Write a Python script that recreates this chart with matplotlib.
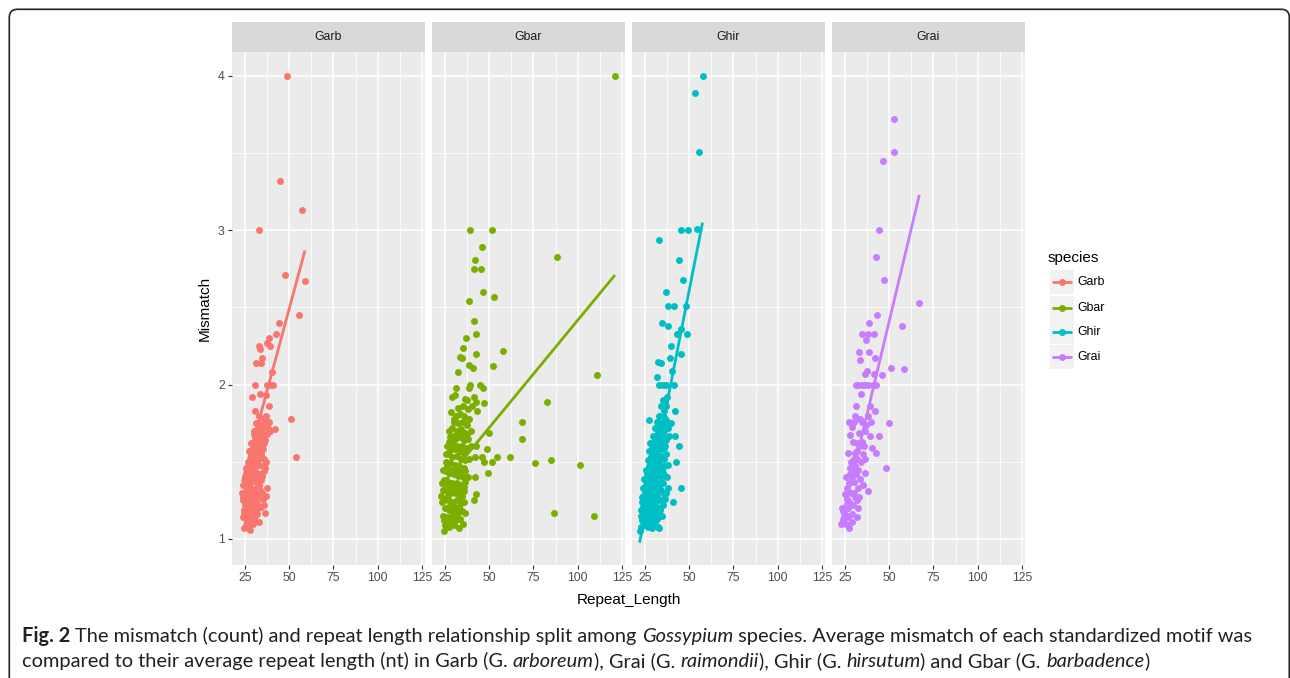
import matplotlib
matplotlib.use("Agg")
import matplotlib.pyplot as plt
from matplotlib.patches import Rectangle, FancyBboxPatch

W, H = 1290, 678

species = ["Garb", "Gbar", "Ghir", "Grai"]
colors = ["#F8766D", "#7CAE00", "#00BFC4", "#C77CFF"]

# (Repeat_Length, Mismatch)
garb_points = [
    (48.5, 4.0), (45.0, 3.32), (57.4, 3.13), (33.1, 3.0), (47.6, 2.71), (58.7, 2.67),
    (55.3, 2.45), (44.2, 2.40), (42.7, 2.33), (38.7, 2.30), (37.3, 2.27), (39.3, 2.25),
    (32.7, 2.25), (33.5, 2.23), (34.4, 2.17), (31.0, 2.14), (34.2, 2.14), (40.4, 2.08),
    (30.9, 2.0), (37.6, 2.0), (39.0, 2.0), (40.6, 2.0), (29.1, 1.92), (33.3, 1.94),
    (37.1, 1.93), (38.7, 1.86), (30.6, 1.83), (51.2, 1.78), (42.1, 1.71), (53.8, 1.53),
    (33.0, 1.80), (35.5, 1.78), (37.0, 1.77), (31.0, 1.75), (32.5, 1.75), (34.0, 1.74),
    (36.2, 1.73), (38.0, 1.72), (29.8, 1.70), (31.5, 1.70), (33.5, 1.69), (35.0, 1.68),
    (37.5, 1.68), (39.0, 1.70), (30.5, 1.66), (32.0, 1.65), (34.5, 1.65), (36.5, 1.64),
    (28.5, 1.62), (30.0, 1.61), (31.5, 1.60), (33.0, 1.58), (35.0, 1.58), (27.5, 1.57),
    (29.5, 1.56), (31.0, 1.55), (32.5, 1.53), (34.2, 1.54), (36.0, 1.52), (26.5, 1.50),
    (28.0, 1.50), (29.5, 1.49), (31.0, 1.50), (33.0, 1.48), (35.0, 1.47), (37.0, 1.50),
    (25.5, 1.46), (27.0, 1.45), (28.5, 1.44), (30.0, 1.45), (31.5, 1.43), (33.5, 1.42),
    (35.5, 1.44), (25.0, 1.40), (26.5, 1.40), (28.0, 1.39), (29.5, 1.38), (31.0, 1.40),
    (32.5, 1.37), (34.0, 1.38), (24.0, 1.35), (25.5, 1.34), (27.0, 1.33), (28.5, 1.33),
    (30.0, 1.32), (31.5, 1.33), (33.5, 1.32), (37.6, 1.33), (23.5, 1.30), (25.0, 1.29),
    (26.5, 1.28), (28.0, 1.29), (29.5, 1.27), (31.0, 1.28), (33.0, 1.27), (35.0, 1.26),
    (37.0, 1.28), (24.0, 1.25), (25.5, 1.24), (27.0, 1.23), (28.5, 1.24), (30.0, 1.22),
    (32.0, 1.23), (34.0, 1.21), (36.0, 1.22), (24.5, 1.19), (26.0, 1.18), (27.5, 1.19),
    (29.0, 1.17), (31.0, 1.18), (32.5, 1.20), (36.4, 1.17), (24.0, 1.14), (25.5, 1.13),
    (27.0, 1.14), (28.5, 1.12), (30.0, 1.13), (33.1, 1.11), (24.6, 1.07), (25.8, 1.09),
    (27.2, 1.10),
    (24.8, 1.22), (26.2, 1.31), (27.8, 1.36), (29.2, 1.42), (30.7, 1.47), (32.2, 1.51),
    (33.8, 1.56), (35.8, 1.62), (26.8, 1.16), (28.2, 1.21), (29.8, 1.25), (31.5, 1.30),
    (33.0, 1.35), (34.8, 1.41), (36.5, 1.46), (30.5, 1.15), (32.0, 1.16), (34.5, 1.30),
    (27.8, 1.48), (29.0, 1.53), (30.8, 1.58), (32.8, 1.63), (34.0, 1.60), (26.0, 1.43),
    (25.0, 1.37), (23.8, 1.27), (24.3, 1.17), (26.2, 1.11), (28.0, 1.06), (29.5, 1.10),
    (31.8, 1.36), (30.2, 1.68), (32.2, 1.72), (34.8, 1.71), (36.8, 1.80), (38.5, 1.76),
]
gbar_points = [
    (121.0, 4.0), (39.3, 3.0), (51.6, 3.0), (45.9, 2.89), (42.1, 2.81), (41.2, 2.75),
    (45.5, 2.75), (88.4, 2.83), (46.5, 2.60), (52.5, 2.57), (38.4, 2.54), (41.2, 2.41),
    (42.3, 2.33), (36.7, 2.30), (35.2, 2.24), (42.3, 2.20), (57.9, 2.22), (33.3, 2.18),
    (34.6, 2.17), (38.4, 2.13), (41.0, 2.11), (52.1, 2.12), (32.2, 2.08), (39.3, 2.0),
    (38.6, 1.98), (44.8, 2.0), (46.3, 1.98), (31.0, 1.98), (28.9, 1.92), (30.6, 1.93),
    (36.5, 1.91), (37.2, 1.90), (41.5, 1.92), (42.3, 1.89), (47.0, 1.88), (40.1, 1.86),
    (42.9, 1.83), (111.1, 2.06), (82.6, 1.89), (68.7, 1.76), (68.7, 1.65), (50.0, 1.69),
    (48.6, 1.58), (42.3, 1.60), (42.0, 1.53), (46.1, 1.53), (47.2, 1.50), (51.4, 1.50),
    (54.2, 1.53), (61.7, 1.53), (49.5, 1.43), (42.0, 1.40), (42.7, 1.29), (41.6, 1.25),
    (75.7, 1.49), (84.7, 1.51), (101.1, 1.48), (86.7, 1.17), (109.4, 1.15), (26.5, 1.56),
    (24.4, 1.05), (33.1, 1.07), (36.3, 1.17),
    (28.5, 1.82), (31.0, 1.80), (33.5, 1.81), (36.0, 1.80), (38.5, 1.78), (30.0, 1.76),
    (32.5, 1.75), (35.0, 1.76), (37.5, 1.74), (29.0, 1.72), (31.5, 1.70), (34.0, 1.71),
    (36.5, 1.69), (39.5, 1.70), (28.0, 1.66), (30.5, 1.65), (33.0, 1.66), (35.5, 1.64),
    (38.0, 1.65), (29.5, 1.61), (32.0, 1.60), (34.5, 1.60), (37.0, 1.59), (27.0, 1.55),
    (29.0, 1.53), (31.5, 1.54), (34.0, 1.52), (36.5, 1.51), (28.0, 1.49), (30.5, 1.48),
    (33.0, 1.47), (35.5, 1.46), (25.5, 1.44), (27.5, 1.43), (30.0, 1.42), (32.5, 1.41),
    (35.0, 1.40), (24.5, 1.38), (26.5, 1.37), (29.0, 1.36), (31.5, 1.36), (34.0, 1.35),
    (36.5, 1.37), (24.0, 1.32), (26.0, 1.31), (28.0, 1.30), (30.5, 1.30), (33.0, 1.29),
    (35.5, 1.31), (24.5, 1.26), (26.5, 1.25), (29.0, 1.24), (31.5, 1.25), (34.0, 1.23),
    (25.0, 1.20), (27.0, 1.19), (29.5, 1.18), (32.0, 1.19), (34.5, 1.18), (24.0, 1.15),
    (26.0, 1.14), (28.5, 1.13), (31.0, 1.12), (33.5, 1.13), (25.0, 1.09), (27.5, 1.08),
    (30.0, 1.09), (35.0, 1.10),
    (25.5, 1.50), (26.0, 1.60), (27.0, 1.70), (29.8, 1.78), (32.3, 1.85), (35.0, 1.86),
    (37.8, 1.84), (26.8, 1.10), (29.0, 1.15), (31.8, 1.16), (33.0, 1.21), (35.8, 1.24),
    (25.8, 1.33), (27.5, 1.34), (30.0, 1.33), (32.3, 1.33), (34.8, 1.28), (23.5, 1.24),
    (23.2, 1.36), (23.8, 1.45), (26.2, 1.47), (28.8, 1.45), (31.0, 1.44), (33.8, 1.44),
    (36.5, 1.44), (25.8, 1.55), (28.3, 1.58), (30.8, 1.58), (33.3, 1.57), (35.8, 1.56),
    (27.2, 1.63), (29.8, 1.67), (32.3, 1.69), (34.8, 1.67), (37.5, 1.68), (24.5, 1.12),
    (22.8, 1.28), (26.5, 1.28), (28.0, 1.22), (30.5, 1.21), (32.8, 1.26), (36.0, 1.34),
    (38.0, 1.40), (38.5, 1.52), (39.8, 1.60),
]
ghir_points = [
    (57.6, 4.0), (53.2, 3.89), (55.3, 3.51), (45.5, 3.0), (49.3, 3.0), (54.2, 3.01),
    (32.8, 2.94), (44.2, 2.81), (46.4, 2.68), (36.6, 2.60), (38.1, 2.51), (41.3, 2.51),
    (48.4, 2.51), (34.5, 2.40), (37.9, 2.38), (43.0, 2.33), (45.1, 2.36), (48.5, 2.33),
    (39.6, 2.25), (45.5, 2.20), (32.1, 2.15), (34.2, 2.14), (38.9, 2.17), (40.2, 2.09),
    (31.9, 2.05), (33.0, 2.0), (35.1, 2.0), (37.0, 2.0), (41.3, 2.0), (36.1, 1.89),
    (37.0, 1.86), (42.1, 1.83), (27.0, 1.77), (39.5, 1.75), (41.7, 1.67), (44.2, 1.60),
    (42.7, 1.50), (45.1, 1.33), (40.6, 1.24), (37.9, 1.33), (22.4, 1.05), (32.1, 1.08),
    (34.0, 1.86), (35.5, 1.83), (33.0, 1.80), (36.0, 1.79), (31.5, 1.76), (34.0, 1.75),
    (37.0, 1.74), (30.5, 1.72), (33.0, 1.71), (35.5, 1.70), (38.0, 1.72), (29.5, 1.67),
    (32.0, 1.66), (34.5, 1.65), (37.0, 1.64), (28.0, 1.62), (30.5, 1.61), (33.0, 1.60),
    (35.5, 1.59), (27.0, 1.57), (29.5, 1.56), (32.0, 1.55), (34.5, 1.54), (37.0, 1.55),
    (26.5, 1.51), (28.5, 1.50), (31.0, 1.49), (33.5, 1.48), (36.0, 1.47), (25.5, 1.45),
    (27.5, 1.44), (30.0, 1.43), (32.5, 1.42), (35.0, 1.43), (24.5, 1.39), (26.5, 1.38),
    (29.0, 1.37), (31.5, 1.36), (34.0, 1.37), (24.0, 1.33), (26.0, 1.32), (28.0, 1.31),
    (30.5, 1.30), (33.0, 1.31), (35.5, 1.29), (23.5, 1.27), (25.5, 1.26), (27.5, 1.25),
    (30.0, 1.24), (32.5, 1.25), (35.0, 1.22), (24.0, 1.21), (26.0, 1.20), (28.5, 1.19),
    (31.0, 1.18), (33.5, 1.19), (23.0, 1.15), (25.0, 1.14), (27.0, 1.13), (29.5, 1.12),
    (32.0, 1.13), (24.0, 1.09), (26.5, 1.08), (29.0, 1.07), (23.5, 1.12),
    (24.8, 1.17), (27.3, 1.16), (29.8, 1.16), (32.5, 1.16), (34.5, 1.15), (23.2, 1.24),
    (26.8, 1.22), (29.3, 1.21), (31.8, 1.21), (34.2, 1.25), (36.5, 1.26), (24.8, 1.30),
    (27.3, 1.28), (29.3, 1.28), (31.8, 1.28), (34.3, 1.32), (37.0, 1.30), (25.5, 1.35),
    (27.8, 1.35), (30.3, 1.34), (32.8, 1.35), (35.3, 1.36), (37.5, 1.40), (26.3, 1.42),
    (28.8, 1.41), (31.3, 1.40), (33.8, 1.41), (36.3, 1.41), (27.3, 1.47), (29.8, 1.47),
    (32.3, 1.46), (34.8, 1.45), (38.0, 1.48), (28.3, 1.53), (30.8, 1.53), (33.3, 1.52),
    (35.8, 1.52), (29.2, 1.59), (31.8, 1.58), (34.2, 1.58), (36.5, 1.60), (30.8, 1.64),
    (33.5, 1.63), (35.8, 1.66), (38.5, 1.67), (32.5, 1.69), (34.8, 1.72), (36.8, 1.77),
    (35.0, 1.90), (37.5, 1.92), (23.0, 1.08), (25.5, 1.11), (28.0, 1.10), (30.5, 1.10),
    (33.0, 1.07), (22.5, 1.19),
]
grai_points = [
    (52.5, 3.72), (52.9, 3.51), (46.6, 3.45), (44.4, 3.0), (42.7, 2.83), (46.9, 2.68),
    (66.8, 2.53), (43.2, 2.45), (38.6, 2.40), (57.0, 2.38), (34.8, 2.33), (38.2, 2.33),
    (41.6, 2.33), (37.0, 2.29), (32.9, 2.21), (38.6, 2.21), (33.3, 2.16), (41.9, 2.17),
    (50.8, 2.11), (58.3, 2.10), (37.2, 2.09), (36.3, 2.07), (41.6, 2.07), (45.7, 2.06),
    (31.0, 2.0), (32.5, 2.0), (34.4, 2.0), (36.3, 2.0), (38.2, 2.0), (41.0, 2.0),
    (42.5, 2.0), (34.0, 1.94), (31.0, 1.86), (39.0, 1.86), (42.1, 1.83), (37.8, 1.80),
    (27.3, 1.76), (30.3, 1.755), (34.4, 1.76), (37.0, 1.74), (39.9, 1.755), (50.0, 1.75),
    (28.8, 1.725), (27.8, 1.675), (33.1, 1.69), (39.1, 1.67), (44.4, 1.67), (40.1, 1.59),
    (42.3, 1.56), (26.9, 1.56), (30.6, 1.56), (48.0, 1.46), (28.4, 1.50), (34.0, 1.50),
    (35.3, 1.55), (36.1, 1.43), (25.4, 1.40), (28.8, 1.40), (33.5, 1.39), (37.8, 1.31),
    (26.0, 1.33), (32.5, 1.33), (25.0, 1.29), (30.6, 1.27), (31.6, 1.25), (23.1, 1.20),
    (26.9, 1.20), (32.2, 1.20), (31.6, 1.14), (25.0, 1.16), (24.1, 1.12), (22.7, 1.10),
    (25.4, 1.10), (27.3, 1.07), (28.8, 1.11),
    (29.5, 1.63), (31.5, 1.62), (33.0, 1.60), (28.0, 1.46), (30.5, 1.47), (32.5, 1.45),
    (27.0, 1.36), (30.0, 1.37), (28.5, 1.30), (27.5, 1.24), (29.5, 1.22), (26.0, 1.26),
    (35.0, 1.35), (31.0, 1.42), (32.0, 1.52), (34.5, 1.63), (36.5, 1.70), (33.5, 1.78),
    (30.5, 1.80),
    (24.0, 1.18), (26.5, 1.14), (29.0, 1.16), (30.0, 1.30), (33.0, 1.27), (27.8, 1.42),
    (29.8, 1.52), (31.5, 1.57), (35.5, 1.60), (36.5, 1.52),
]
# lm fit lines, end points
garb_fit = [(23.5, 1.37), (58.9, 2.87)]
gbar_fit = [(24.0, 1.36), (121.0, 2.71)]
ghir_fit = [(21.9, 0.976), (57.5, 3.05)]
grai_fit = [(22.7, 1.10), (67.0, 3.23)]

all_points = [garb_points, gbar_points, ghir_points, grai_points]
all_fits = [garb_fit, gbar_fit, ghir_fit, grai_fit]

x_ticks = [25, 50, 75, 100, 125]
y_ticks = [1, 2, 3, 4]

caption_line1 = [("Fig. 2 ", "bold", "normal"),
                 ("The mismatch (count) and repeat length relationship split among ", "normal", "normal"),
                 ("Gossypium", "normal", "italic"),
                 (" species. Average mismatch of each standardized motif was", "normal", "normal")]
caption_line2 = [("compared to their average repeat length (nt) in Garb (G. ", "normal", "normal"),
                 ("arboreum", "normal", "italic"),
                 ("), Grai (G. ", "normal", "normal"),
                 ("raimondii", "normal", "italic"),
                 ("), Ghir (G. ", "normal", "normal"),
                 ("hirsutum", "normal", "italic"),
                 (") and Gbar (G. ", "normal", "normal"),
                 ("barbadence", "normal", "italic"),
                 (")", "normal", "normal")]

plt.rcParams['font.family'] = ['Liberation Sans', 'DejaVu Sans']

fig = plt.figure(figsize=(W / 100, H / 100), dpi=100)
fig.patch.set_facecolor("white")


def rect(l, t, r, b):
    return [l / W, 1 - b / H, (r - l) / W, (b - t) / H]


panel_left = [232, 432, 632, 832]
ptop, pbot = 52, 565
strip_h = 30

for i, sp in enumerate(species):
    ax = fig.add_axes(rect(panel_left[i], ptop, panel_left[i] + 193, pbot))
    ax.set_facecolor("#EBEBEB")
    ax.set_xlim(17.65, 126.7)
    ax.set_ylim(0.8315, 4.1555)
    ax.set_xticks(x_ticks)
    ax.set_xticks([37.5, 62.5, 87.5, 112.5], minor=True)
    ax.set_yticks(y_ticks)
    ax.set_yticks([1.5, 2.5, 3.5], minor=True)
    ax.grid(which="major", color="white", lw=1.1)
    ax.grid(which="minor", color="white", lw=0.55)
    ax.set_axisbelow(True)
    for s in ax.spines.values():
        s.set_visible(False)
    ax.tick_params(which="minor", length=0)
    ax.tick_params(which="major", length=3.2, width=0.8, color="#333333",
                   labelsize=8.8, labelcolor="#4D4D4D", pad=2)
    if i > 0:
        ax.tick_params(axis="y", length=0, labelleft=False)

    xs = [p[0] for p in all_points[i]]
    ys = [p[1] for p in all_points[i]]
    ax.scatter(xs, ys, s=25, color=colors[i], linewidths=0, zorder=3)
    fx = [p[0] for p in all_fits[i]]
    fy = [p[1] for p in all_fits[i]]
    ax.plot(fx, fy, color=colors[i], lw=2.0, zorder=4, solid_capstyle="butt")

    sh = strip_h / (pbot - ptop)
    ax.add_patch(Rectangle((0, 1), 1, sh, transform=ax.transAxes, facecolor="#D9D9D9",
                           edgecolor="none", clip_on=False))
    ax.text(0.5, 1 + sh / 2, sp, transform=ax.transAxes, ha="center", va="center",
            fontsize=8.8, color="#1A1A1A")

# overlay in pixel coordinates for labels, legend, caption, frame
ov = fig.add_axes([0, 0, 1, 1])
ov.set_xlim(0, W)
ov.set_ylim(H, 0)
ov.axis("off")

ov.text(205, 308.5, "Mismatch", rotation=90, ha="center", va="center", fontsize=11, color="black")
ov.text(628.5, 600, "Repeat_Length", ha="center", va="center", fontsize=11, color="black")

# legend
ov.text(1048, 258, "species", ha="left", va="center", fontsize=11, color="black")
key_y = [282.3, 307.7, 332.3, 357.3]
for i, sp in enumerate(species):
    yc = key_y[i]
    ov.add_patch(Rectangle((1050, yc - 12), 23.5, 24, facecolor="#F2F2F2", edgecolor="none"))
    ov.plot([1052, 1071.5], [yc, yc], color=colors[i], lw=2.0, solid_capstyle="butt")
    ov.scatter([1061.7], [yc], s=25, color=colors[i], linewidths=0, zorder=3)
    ov.text(1077, yc, sp, ha="left", va="center", fontsize=8.8, color="black")

# frame of the figure box
ov.add_patch(FancyBboxPatch((9.3, 9.3), 1289.3 - 9.3, 720, boxstyle="round,pad=0,rounding_size=8",
                            facecolor="none", edgecolor="#222222", lw=1.2, clip_on=False))

# caption, drawn piece by piece
cap_font = ['Lato', 'Liberation Sans', 'DejaVu Sans']
renderer = fig.canvas.get_renderer()


def piece_width(txt, weight, style, size):
    t1 = ov.text(0, 0, txt + "|", fontsize=size, fontweight=weight, fontstyle=style, family=cap_font)
    t2 = ov.text(0, 0, "|", fontsize=size, fontweight=weight, fontstyle=style, family=cap_font)
    w = t1.get_window_extent(renderer).width - t2.get_window_extent(renderer).width
    t1.remove()
    t2.remove()
    return w


def draw_line(pieces, x0, y, size):
    x = x0
    for txt, weight, style in pieces:
        ov.text(x, y, txt, fontsize=size, fontweight=weight, fontstyle=style, family=cap_font,
                ha="left", va="baseline", color="#231F20")
        x += piece_width(txt, weight, style, size)


base = 10.0
w1 = sum(piece_width(t, wgt, st, base) for t, wgt, st in caption_line1)
cap_size = base * (1253 - 22) / w1
draw_line(caption_line1, 22, 642, cap_size)
draw_line(caption_line2, 22, 667, cap_size)

fig.savefig("out.png", dpi=100)
